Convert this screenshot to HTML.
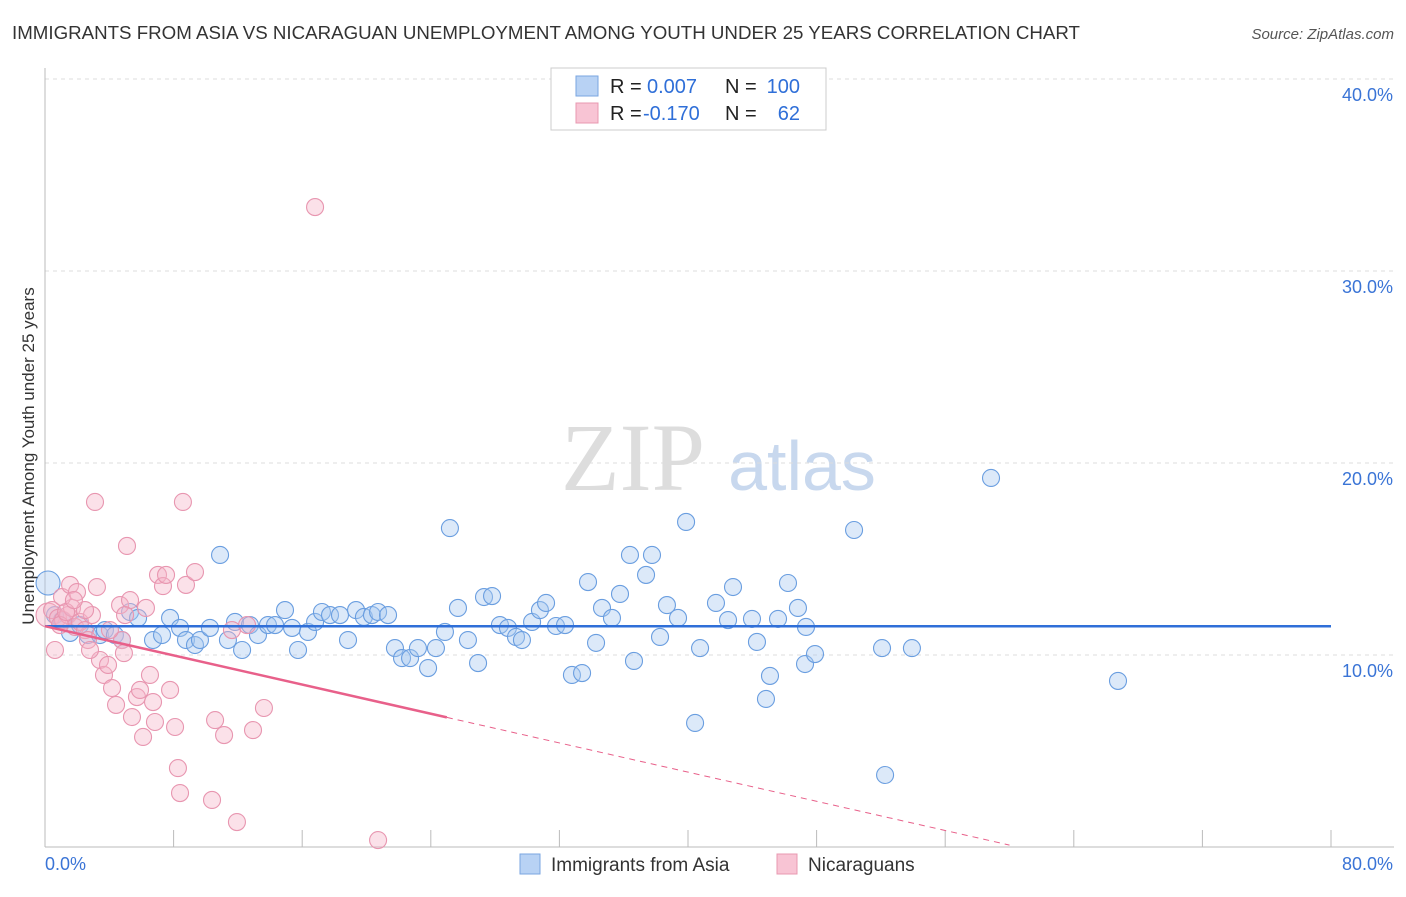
<!DOCTYPE html>
<html><head><meta charset="utf-8"><style>
body{margin:0;background:#fff;font-family:"Liberation Sans",sans-serif;}
</style></head><body>
<svg id="chart" width="1406" height="892" xmlns="http://www.w3.org/2000/svg" font-family="Liberation Sans, sans-serif">
<text x="12" y="39" font-size="18" fill="#333" textLength="1068" lengthAdjust="spacingAndGlyphs">IMMIGRANTS FROM ASIA VS NICARAGUAN UNEMPLOYMENT AMONG YOUTH UNDER 25 YEARS CORRELATION CHART</text>
<text x="1394" y="39" font-size="15" fill="#555" font-style="italic" text-anchor="end">Source: ZipAtlas.com</text>
<g>
<text x="633" y="490" font-size="96" fill="#ddd" font-family="Liberation Serif, serif" text-anchor="middle">ZIP</text>
<text x="802" y="490" font-size="70" fill="#c8d8ee" text-anchor="middle">atlas</text>
</g>
<g id="grid"></g><g id="axes"></g><g id="pts"></g><g id="lines"></g>
<text transform="translate(34,456) rotate(-90)" font-size="17" fill="#333" text-anchor="middle">Unemployment Among Youth under 25 years</text>
<g>
<rect x="551" y="68" width="275" height="62" fill="#fff" stroke="#ccc"/>
<rect x="576" y="76" width="22" height="20" fill="#b8d2f4" stroke="#7aa6e0"/>
<rect x="576" y="103" width="22" height="20" fill="#f8c4d4" stroke="#e898b0"/>
<text x="610" y="93" font-size="20" fill="#222">R =</text>
<text x="647" y="93" font-size="20" fill="#2f6fd8">0.007</text>
<text x="725" y="93" font-size="20" fill="#222">N =</text>
<text x="800" y="93" font-size="20" fill="#2f6fd8" text-anchor="end">100</text>
<text x="610" y="120" font-size="20" fill="#222">R =</text>
<text x="643" y="120" font-size="20" fill="#2f6fd8">-0.170</text>
<text x="725" y="120" font-size="20" fill="#222">N =</text>
<text x="800" y="120" font-size="20" fill="#2f6fd8" text-anchor="end">62</text>
</g>
<g>
<rect x="520" y="854" width="20" height="20" fill="#b8d2f4" stroke="#7aa6e0"/>
<text x="551" y="871" font-size="19" fill="#333">Immigrants from Asia</text>
<rect x="777" y="854" width="20" height="20" fill="#f8c4d4" stroke="#e898b0"/>
<text x="808" y="871" font-size="19" fill="#333">Nicaraguans</text>
</g>
</svg>
<script>
const yTicks=[10,20,30,40];
const yTickLabels=["10.0%","20.0%","30.0%","40.0%"];
const xTickLabels=["0.0%","80.0%"];
const bluePx=[[48,583],[55,615],[62,620],[70,633],[80,625],[88,635],[100,635],[105,630],[115,635],[122,640],[130,612],[138,618],[153,640],[162,635],[170,618],[180,628],[186,640],[195,645],[200,640],[210,628],[220,555],[228,640],[235,622],[242,650],[250,625],[258,635],[268,625],[275,625],[285,610],[292,628],[298,650],[308,632],[315,622],[322,612],[330,615],[340,615],[348,640],[356,610],[364,617],[372,615],[378,612],[388,615],[395,648],[402,658],[410,658],[418,648],[428,668],[436,648],[445,632],[450,528],[458,608],[468,640],[478,663],[484,597],[492,596],[500,625],[508,628],[516,637],[522,640],[532,622],[540,610],[546,603],[556,626],[565,625],[572,675],[582,673],[588,582],[596,643],[602,608],[612,618],[620,594],[630,555],[634,661],[646,575],[652,555],[660,637],[667,605],[678,618],[686,522],[695,723],[700,648],[716,603],[728,620],[733,587],[752,619],[757,642],[766,699],[770,676],[778,619],[788,583],[798,608],[806,627],[805,664],[815,654],[854,530],[882,648],[885,775],[912,648],[991,478],[1118,681]];
const pinkPx=[[48,615],[52,610],[58,618],[63,620],[68,615],[72,608],[75,627],[80,622],[85,630],[88,640],[92,615],[95,502],[97,587],[100,660],[104,675],[108,665],[112,688],[116,705],[120,605],[122,640],[124,653],[127,546],[130,600],[132,717],[137,697],[140,690],[143,737],[146,608],[150,675],[153,702],[155,722],[158,575],[163,586],[166,575],[170,690],[175,727],[178,768],[180,793],[183,502],[186,585],[195,572],[212,800],[215,720],[224,735],[232,630],[237,822],[247,625],[253,730],[264,708],[315,207],[378,840],[62,597],[70,585],[77,592],[85,610],[90,650],[55,650],[60,625],[66,612],[74,600],[110,630],[125,615]];
const blueX=bluePx.map(p=>+((p[0]-45)/1286*80).toFixed(2)), blueY=bluePx.map(p=>+((847-p[1])/19.2).toFixed(2));
const pinkX=pinkPx.map(p=>+((p[0]-45)/1286*80).toFixed(2)), pinkY=pinkPx.map(p=>+((847-p[1])/19.2).toFixed(2));
const blueTrend=[11.5,11.5];
const pinkTrend=[11.5,0.1];
const pinkSolidEnd=25;
const NS="http://www.w3.org/2000/svg";
const X=v=>45+v/80*1286, Y=v=>847-v*19.2;
function mk(t,a,parent){const e=document.createElementNS(NS,t);for(const k in a)e.setAttribute(k,a[k]);document.getElementById(parent).appendChild(e);return e;}
yTicks.forEach((t,i)=>{
 const g=mk('line',{x1:45,x2:1394,y1:Y(t),y2:Y(t),stroke:'#ddd','stroke-dasharray':'4,4'},'grid');
 
 
 const l=mk('text',{x:1393,y:Y(t)+22,'font-size':18,fill:'#3a74d6','text-anchor':'end'},'axes');
 l.textContent=yTickLabels[i];
 
 
});
const ax=mk('line',{x1:45,x2:1394,y1:847,y2:847,stroke:'#bbb'},'axes');


const ay=mk('line',{x1:45,x2:45,y1:68,y2:847,stroke:'#bbb'},'axes');


for(let i=1;i<=10;i++){const t=mk('line',{x1:X(i*8),x2:X(i*8),y1:830,y2:847,stroke:'#bbb'},'axes');
 
 }
[[0,'start',45],[1,'end',1393]].forEach(([i,a,x])=>{const l=mk('text',{x:x,y:870,'font-size':18,fill:'#3a74d6','text-anchor':a},'axes');l.textContent=xTickLabels[i];
 
 });
function pts(xs,ys,fill,stroke,name){xs.forEach((x,i)=>{const r=(i==0)?12:8.5;const c=mk('circle',{cx:X(x),cy:Y(ys[i]),r:r,fill:fill,'fill-opacity':0.4,stroke:stroke,'stroke-width':1.1},'pts');
 
 });}
pts(blueX,blueY,'#a8c8f0','#6a9ee0','point-asia');
pts(pinkX,pinkY,'#f6b4c8','#e896b0','point-nicaraguans');
const bl=mk('line',{x1:X(0),x2:X(80),y1:Y(blueTrend[0]),y2:Y(blueTrend[1]),stroke:'#2f6fd8','stroke-width':2.5},'lines');


const pY=x=>pinkTrend[0]+(pinkTrend[1]-pinkTrend[0])*x/60;
const pl=mk('line',{x1:X(0),x2:X(pinkSolidEnd),y1:Y(pY(0)),y2:Y(pY(pinkSolidEnd)),stroke:'#e8608a','stroke-width':2.5},'lines');


const pd=mk('line',{x1:X(pinkSolidEnd),x2:X(60),y1:Y(pY(pinkSolidEnd)),y2:Y(pY(60)),stroke:'#e8608a','stroke-width':1,'stroke-dasharray':'6,5'},'lines');


</script>
</body></html>
